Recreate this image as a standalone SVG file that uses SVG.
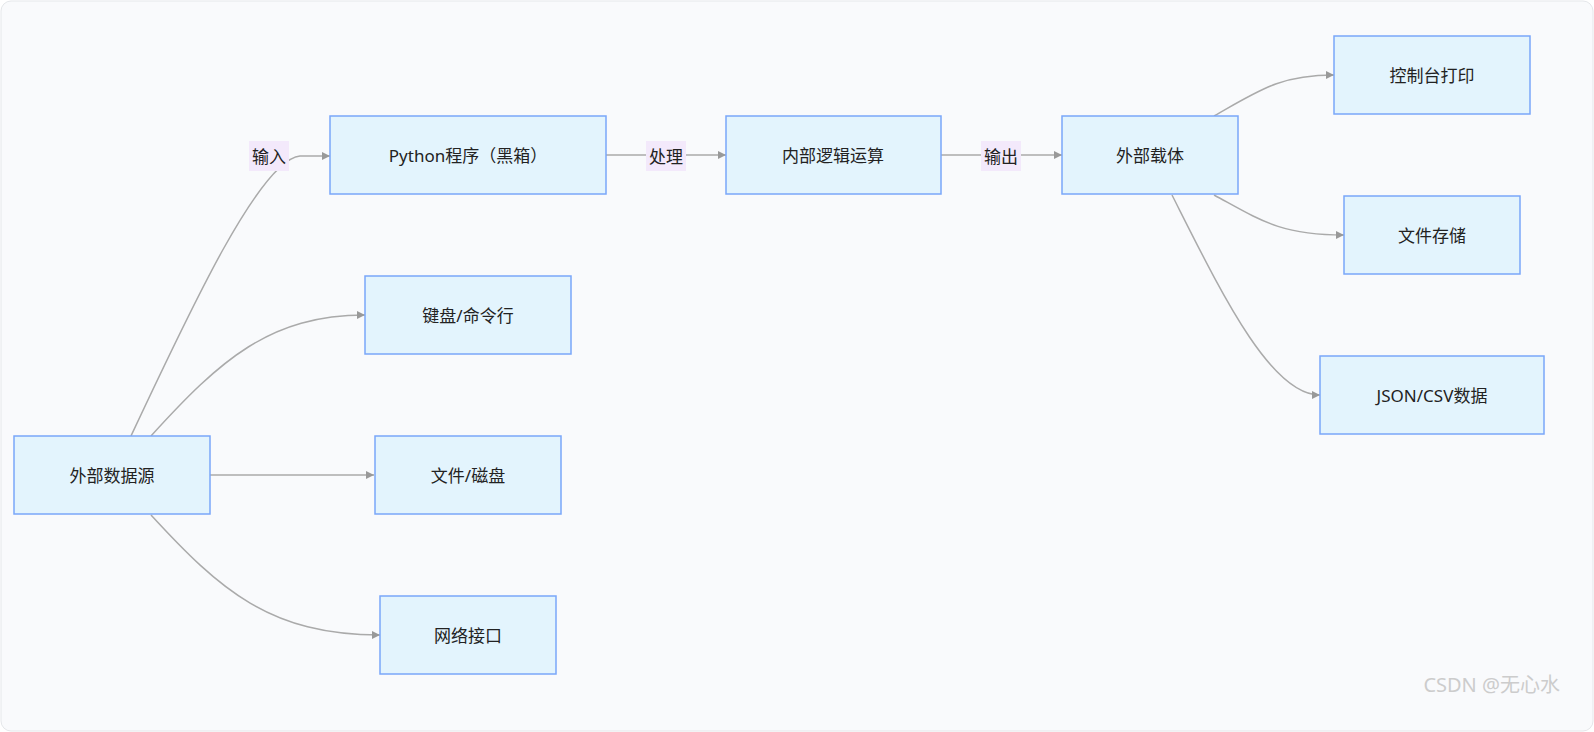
<svg xmlns="http://www.w3.org/2000/svg" width="1594" height="732" viewBox="0 0 1594 732">
<style>
.n rect{fill:#e3f4fd;stroke:#7aa7f9;stroke-width:1.5}
.n text{font-family:"Noto Sans","Noto Sans CJK SC",sans-serif;font-size:17px;fill:#222;text-anchor:middle;dominant-baseline:central}
.e path{fill:none;stroke:#aaa;stroke-width:1.5;marker-end:url(#a)}
.l rect{fill:#f3e9fb}
.l text{font-family:"Noto Sans","Noto Sans CJK SC",sans-serif;font-size:17px;fill:#222;text-anchor:middle;dominant-baseline:central}
</style>
<defs><marker id="a" viewBox="0 0 10 10" refX="10" refY="5" markerWidth="8" markerHeight="8" markerUnits="userSpaceOnUse" orient="auto"><path d="M0,0L10,5L0,10z" fill="#999"/></marker></defs>
<rect x="1" y="1" width="1592" height="730" rx="10" fill="#f9fafc" stroke="#e5e7ea"/>
<g class="e">
<path d="M131,436C190,310 260,160 300,156L330,156"/>
<path d="M151,436C220,360 270,315 365,315"/>
<path d="M210,475L374,475"/>
<path d="M151,515C220,590 270,635 380,635"/>
<path d="M606,155L726,155"/>
<path d="M941,155L1062,155"/>
<path d="M1214,116C1260,90 1280,75 1334,75"/>
<path d="M1214,195C1260,220 1280,235 1344,235"/>
<path d="M1172,195C1220,290 1270,395 1320,395"/>
</g>
<g class="l">
<rect x="249" y="141" width="40" height="30"/><text x="269" y="156">输入</text>
<rect x="646" y="141" width="40" height="30"/><text x="666" y="156">处理</text>
<rect x="981" y="141" width="40" height="30"/><text x="1001" y="156">输出</text>
</g>
<g id="n1" class="n"><rect x="14" y="436" width="196" height="78"/><text x="112" y="475">外部数据源</text></g>
<g id="n2" class="n"><rect x="330" y="116" width="276" height="78"/><text x="468" y="155">Python程序（黑箱）</text></g>
<g id="n3" class="n"><rect x="365" y="276" width="206" height="78"/><text x="468" y="315">键盘/命令行</text></g>
<g id="n4" class="n"><rect x="375" y="436" width="186" height="78"/><text x="468" y="475">文件/磁盘</text></g>
<g id="n5" class="n"><rect x="380" y="596" width="176" height="78"/><text x="468" y="635">网络接口</text></g>
<g id="n6" class="n"><rect x="726" y="116" width="215" height="78"/><text x="833" y="155">内部逻辑运算</text></g>
<g id="n7" class="n"><rect x="1062" y="116" width="176" height="78"/><text x="1150" y="155">外部载体</text></g>
<g id="n8" class="n"><rect x="1334" y="36" width="196" height="78"/><text x="1432" y="75">控制台打印</text></g>
<g id="n9" class="n"><rect x="1344" y="196" width="176" height="78"/><text x="1432" y="235">文件存储</text></g>
<g id="n10" class="n"><rect x="1320" y="356" width="224" height="78"/><text x="1432" y="395">JSON/CSV数据</text></g>
<text x="1560" y="692" font-family="Noto Sans,Noto Sans CJK SC,sans-serif" font-size="20" fill="#ccc" text-anchor="end">CSDN @无心水</text>
</svg>
